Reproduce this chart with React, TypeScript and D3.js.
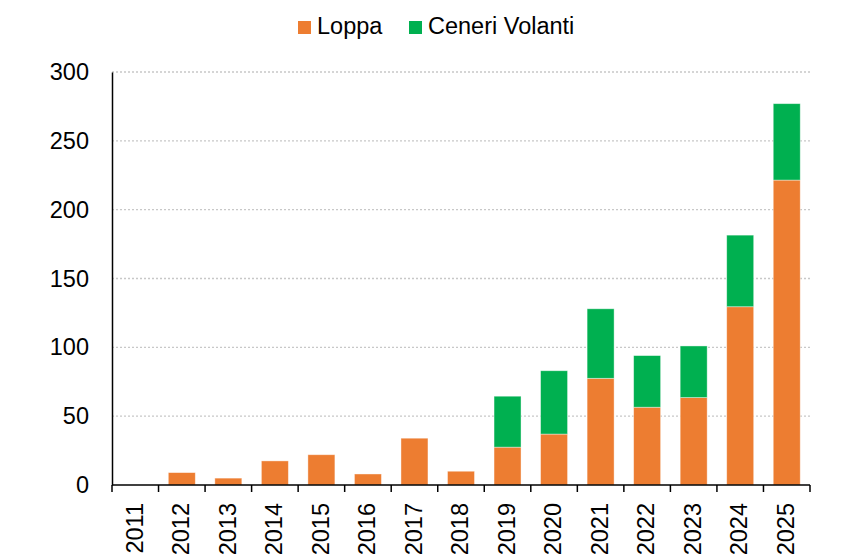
import React, { useEffect, useRef } from "react";
import * as d3 from "d3";

const years = ["2011", "2012", "2013", "2014", "2015", "2016", "2017", "2018", "2019", "2020", "2021", "2022", "2023", "2024", "2025"];
const loppa = [0, 9, 5, 17.5, 22, 8, 34, 10, 27.5, 37, 77.5, 56.5, 63.5, 129.5, 221.5];
const ceneri = [0, 0, 0, 0, 0, 0, 0, 0, 37, 46, 50.5, 37.5, 37.5, 52, 55.5];
const yTicks = [0, 50, 100, 150, 200, 250, 300];
const seriesNames = ["Loppa", "Ceneri Volanti"];
const colors = ["#ED7D31", "#00B050"];

export default function App() {
    const ref = useRef<SVGSVGElement>(null);

    useEffect(() => {
        const svg = d3.select(ref.current);
        svg.selectAll("*").remove();

        const left = 112, right = 810, top = 72, bottom = 485;
        const font = "'Liberation Sans', Arial, sans-serif";
        const fs = 23.5;

        const x = d3.scaleBand().domain(years).range([left, right]).paddingInner(0.42).paddingOuter(0.21);
        const y = d3.scaleLinear().domain([0, 300]).range([bottom, top]);

        const rows = years.map((yr, i) => ({ year: yr, loppa: loppa[i], ceneri: ceneri[i] }));
        const stacked = d3.stack<any>().keys(["loppa", "ceneri"])(rows);

        // gridlines
        svg.append("g")
            .selectAll("line")
            .data(yTicks.filter(d => d > 0))
            .enter().append("line")
            .attr("x1", left).attr("x2", right)
            .attr("y1", d => y(d)).attr("y2", d => y(d))
            .attr("stroke", "#c8c8c8")
            .attr("stroke-width", 1.3)
            .attr("stroke-dasharray", "2,2");

        // bars
        svg.append("g")
            .selectAll("g")
            .data(stacked)
            .enter().append("g")
            .attr("fill", (d, i) => colors[i])
            .selectAll("rect")
            .data(d => d.filter(s => s[1] - s[0] > 0))
            .enter().append("rect")
            .attr("x", d => x(d.data.year)!)
            .attr("width", x.bandwidth())
            .attr("y", d => y(d[1]))
            .attr("height", d => y(d[0]) - y(d[1]))
            .attr("stroke", "rgba(255,255,255,0.5)")
            .attr("stroke-width", 0.8);

        // y axis
        const yAxis = svg.append("g")
            .attr("transform", `translate(${left},0)`)
            .call(d3.axisLeft(y).tickValues(yTicks).tickSize(0).tickPadding(23));
        yAxis.select(".domain").attr("stroke", "#000").attr("stroke-width", 1.5);
        yAxis.selectAll("text").attr("font-size", fs).attr("font-family", font).attr("fill", "#000");

        // x axis
        const step = x.step();
        const xg = svg.append("g");
        xg.append("line")
            .attr("x1", left).attr("x2", right)
            .attr("y1", bottom).attr("y2", bottom)
            .attr("stroke", "#000").attr("stroke-width", 1.5);
        xg.selectAll("line.tick")
            .data(d3.range(years.length + 1))
            .enter().append("line")
            .attr("class", "tick")
            .attr("x1", i => left + i * step).attr("x2", i => left + i * step)
            .attr("y1", bottom).attr("y2", bottom + 7)
            .attr("stroke", "#000").attr("stroke-width", 1.5);
        xg.selectAll("text")
            .data(years)
            .enter().append("text")
            .attr("transform", d => `translate(${x(d)! + x.bandwidth() / 2 - 1},503) rotate(-90)`)
            .attr("text-anchor", "end")
            .attr("dy", "0.35em")
            .attr("font-size", fs)
            .attr("font-family", font)
            .text(d => d);

        // legend
        const legendX = [298, 409];
        const lg = svg.append("g")
            .selectAll("g")
            .data(seriesNames)
            .enter().append("g")
            .attr("transform", (d, i) => `translate(${legendX[i]},21)`);
        lg.append("rect").attr("width", 13).attr("height", 13).attr("fill", (d, i) => colors[i]);
        lg.append("text")
            .attr("x", 19).attr("y", 13)
            .attr("font-size", fs)
            .attr("font-family", font)
            .text(d => d);
    }, []);

    return (
        <svg ref={ref} width={849} height={556}
            style={{ position: "absolute", left: 0, top: 0, background: "#fff" }}></svg>
    );
}
